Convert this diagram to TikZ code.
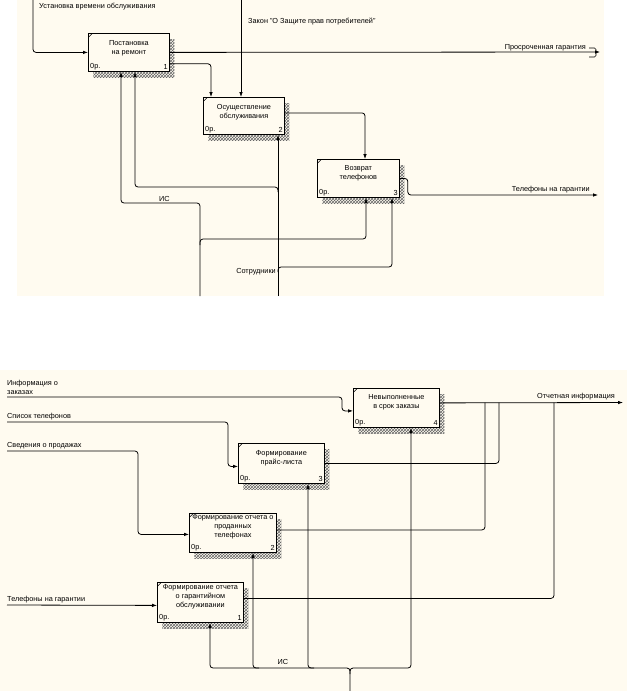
\documentclass[tikz,border=0pt]{standalone}
\usepackage{fontspec}
\setmainfont{Liberation Sans}
\usetikzlibrary{arrows.meta, patterns}
\definecolor{paper}{RGB}{255,251,240}

\begin{document}
\begin{tikzpicture}[
      x=1pt, y=-1pt,
      font=\fontsize{7.3}{9.3}\selectfont,
      >={Latex[length=5pt,width=3.6pt]},
      func/.style={rectangle, draw, fill=paper, line width=0.8pt, inner sep=0pt, anchor=north west,
        preaction={draw=none, pattern=crosshatch, pattern color=black!60, transform canvas={xshift=5pt, yshift=-6pt}},
        path picture={\draw[line width=0.5pt] ([yshift=-4pt]path picture bounding box.north west) -- ([xshift=4pt]path picture bounding box.north west);},
        label={[anchor=south west, inner sep=2pt]south west:0р.}},
      title/.style={anchor=north, align=center, inner sep=0pt, yshift=#1},
      num/.style={anchor=south east, inner sep=2pt},
      flow/.style={line width=0.8pt, rounded corners=3pt},
      lbl/.style={inner sep=1pt}
      ]

      % Background
      \fill[white] (0,0) rectangle (627,691);
      \fill[paper] (17,0) rectangle (604,296);
      \fill[paper] (0,370) rectangle (627,691);
      \useasboundingbox (0,0) rectangle (627,691);

      % Nodes (upper diagram)
      \node[func, minimum width=81pt, minimum height=38pt, label={[title=-7pt]north:Постановка\\на ремонт}, label={[num]south east:1}] (t1) at (88,33) {};
      \node[func, minimum width=81pt, minimum height=37pt, label={[title=-7pt]north:Осуществление\\обслуживания}, label={[num]south east:2}] (t2) at (203,97) {};
      \node[func, minimum width=82pt, minimum height=38pt, label={[title=-6pt]north:Возврат\\телефонов}, label={[num]south east:3}] (t3) at (317,159) {};

      % Ends (upper diagram)
      \coordinate (in1) at (33,0);
      \coordinate (ctl1) at (241,0);
      \coordinate (out1) at (600,52);
      \coordinate (out2) at (598,195);
      \coordinate (mis) at (200,296);
      \coordinate (msot) at (278,296);

      % Labels (upper diagram)
      \node[lbl, anchor=west] (lust) at (38,7) {Установка времени обслуживания};
      \node[lbl, anchor=west] (lzak) at (247,22) {Закон "О Защите прав потребителей"};
      \node[lbl, anchor=east] (lpro) at (587,48) {Просроченная гарантия};
      \node[lbl, anchor=east] (ltel) at (591,190) {Телефоны на гарантии};
      \node[lbl, anchor=east] (lsot) at (277,272) {Сотрудники};

      % Arrows (upper diagram)
      \draw[flow, ->] (in1) |- (t1.west);
      \draw[flow, ->] (t1.east) -- (out1);
      \draw[line width=0.6pt, rounded corners=1.5pt] (589,48) -- (596,48) -- (596,57) -- (589,57);
      \draw[flow, ->] ([yshift=8pt]t1.south east) -| ([xshift=8pt]t2.north west);
      \draw[flow, ->] (ctl1) -- (ctl1 |- t2.north);
      \draw[flow, ->] ([yshift=3pt]t2.east) -| ([xshift=48pt]t3.north west);
      \draw[flow, ->] (t3.east) -- ++(8,0) |- (out2);
      \draw[flow, ->] (mis) -- (200,203) -- node[lbl, above, xshift=4pt] (lis) {ИС} (121,203) -- ([xshift=33pt]t1.south west);
      \draw[flow, ->] (200,245) -- (200,239) -| ([xshift=49pt]t3.south west);
      \draw[flow, ->] (msot) -- ([xshift=75pt]t2.south west);
      \draw[flow, ->] (278,192) -- (278,187) -| ([xshift=47pt]t1.south west);
      \draw[flow, ->] (278,272) -- (278,267) -| ([xshift=75pt]t3.south west);

      % Nodes (lower diagram)
      \node[func, minimum width=86pt, minimum height=39pt, label={[title=-6pt]north:Невыполненные\\в срок заказы}, label={[num]south east:4}] (b4) at (353,388) {};
      \node[func, minimum width=86pt, minimum height=40pt, label={[title=-7pt]north:Формирование\\прайс-листа}, label={[num]south east:3}] (b3) at (238,443) {};
      \node[func, minimum width=87pt, minimum height=39pt, label={[title=-1pt]north:Формирование отчета о\\проданных\\телефонах}, label={[num]south east:2}] (b2) at (189,513) {};
      \node[func, minimum width=86pt, minimum height=40pt, label={[title=-2pt]north:Формирование отчета\\о гарантийном\\обслуживании}, label={[num]south east:1}] (b1) at (157,582) {};

      % Ends (lower diagram)
      \coordinate (iz) at (7,397);
      \coordinate (st) at (7,422);
      \coordinate (sp) at (7,451);
      \coordinate (tg) at (7,605);
      \coordinate (oi) at (623,402.5);
      \coordinate (j1) at (554,402.5);
      \coordinate (j2) at (485,402.5);
      \coordinate (j3) at (499,402.5);
      \coordinate (mb) at (350,691);

      % Labels (lower diagram)
      \node[lbl, anchor=south west, align=left] (liz) at (6,396) {Информация о\\заказах};
      \node[lbl, anchor=south west] (lst) at (6,421) {Список телефонов};
      \node[lbl, anchor=south west] (lsp) at (6,450) {Сведения о продажах};
      \node[lbl, anchor=south west] (ltg) at (6,604) {Телефоны на гарантии};
      \node[lbl, anchor=south east] (loi) at (616,401) {Отчетная информация};
      \node[lbl] (lis2) at (283,662) {ИС};

      % Arrows (lower diagram)
      \draw[flow, ->] (iz) -- (342,397) |- ([yshift=-3pt]b4.west);
      \draw[flow, ->] (st) -- (228,422) |- ([yshift=-3pt]b3.west);
      \draw[flow, ->] (sp) -- (138,451) |- ([yshift=-1.5pt]b2.west);
      \draw[flow, ->] (tg) -- ([yshift=-3pt]b1.west);
      \draw[flow, ->] ([yshift=5pt]b4.east) -- (oi);
      \draw[flow] (b3.east) -| (j3);
      \draw[flow] ([yshift=3pt]b2.east) -| (j2);
      \draw[flow] ([yshift=4pt]b1.east) -| (j1);
      \draw[flow, ->] (mb) -- (350,668) -| ([xshift=53pt]b1.south west);
      \draw[flow, ->] (350,674) -- (350,668) -| ([xshift=58pt]b4.south west);
      \draw[flow, ->] (259,668) -| ([xshift=64pt]b2.south west);
      \draw[flow, ->] (314,668) -| ([xshift=70pt]b3.south west);
    \end{tikzpicture}
\end{document}
